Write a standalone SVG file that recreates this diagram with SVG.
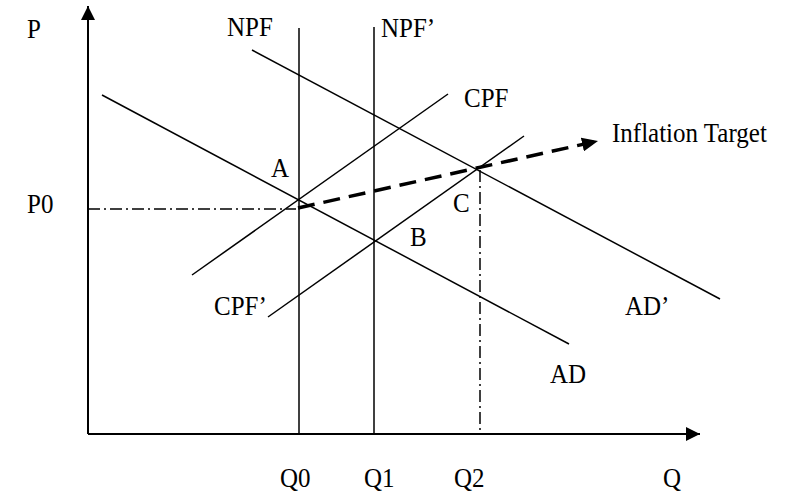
<svg xmlns="http://www.w3.org/2000/svg" width="804" height="495" viewBox="0 0 804 495">
<style>
.t{font-family:"Liberation Serif","Times New Roman",serif;font-size:25px;fill:#000}
.ln{stroke:#000;stroke-width:1.5;fill:none}
.ax{stroke:#000;stroke-width:2;fill:none}
.dd{stroke:#000;stroke-width:1.5;fill:none;stroke-dasharray:12 4 2 4}
.th{stroke:#000;stroke-width:3.5;fill:none;stroke-dasharray:17 9}
</style>
<defs>
<marker id="ah" markerWidth="14" markerHeight="14" refX="14" refY="7" orient="auto" markerUnits="userSpaceOnUse">
<path d="M0,0 L14,7 L0,14 Z" fill="#000"/>
</marker>
<marker id="ah2" markerWidth="18" markerHeight="14" refX="16" refY="7" orient="auto" markerUnits="userSpaceOnUse">
<path d="M0,0 L16,7 L0,14 Z" fill="#000"/>
</marker>
</defs>
<g id="connectors">
<line id="y-axis" class="ax" x1="88" y1="434" x2="88" y2="6" marker-end="url(#ah)"/>
<line id="x-axis" class="ax" x1="88" y1="434" x2="700" y2="434" marker-end="url(#ah)"/>
<line id="NPF-line" class="ln" x1="299" y1="28" x2="299" y2="434"/>
<line id="NPF2-line" class="ln" x1="374" y1="27" x2="374" y2="434"/>
<line id="AD-line" class="ln" x1="102" y1="95" x2="569" y2="344"/>
<line id="AD2-line" class="ln" x1="252" y1="50" x2="720" y2="299"/>
<line id="CPF-line" class="ln" x1="192" y1="275" x2="448" y2="94"/>
<line id="CPF2-line" class="ln" x1="268" y1="317" x2="524" y2="136"/>
<line id="P0-line" class="dd" x1="88" y1="209" x2="296" y2="209"/>
<line id="Q2-line" class="dd" x1="480" y1="170" x2="480" y2="434"/>
<line id="target-line" class="th" x1="298" y1="208" x2="598" y2="141" marker-end="url(#ah2)"/>
</g>
<g id="labels" transform="scale(1,1.1)">
<text class="t" x="27" y="34.5">P</text>
<text class="t" x="27" y="193.6">P0</text>
<text class="t" x="227" y="32.7">NPF</text>
<text class="t" x="381" y="33.6">NPF’</text>
<text class="t" x="464" y="97.3">CPF</text>
<text class="t" x="612" y="129.1">Inflation Target</text>
<text class="t" x="271" y="160.9">A</text>
<text class="t" x="453" y="192.7">C</text>
<text class="t" x="410" y="223.6">B</text>
<text class="t" x="214" y="286.4">CPF’</text>
<text class="t" x="625" y="286.4">AD’</text>
<text class="t" x="550" y="348.2">AD</text>
<text class="t" x="280" y="442.7">Q0</text>
<text class="t" x="364" y="442.7">Q1</text>
<text class="t" x="454" y="442.7">Q2</text>
<text class="t" x="663" y="442.7">Q</text>
</g>
</svg>
